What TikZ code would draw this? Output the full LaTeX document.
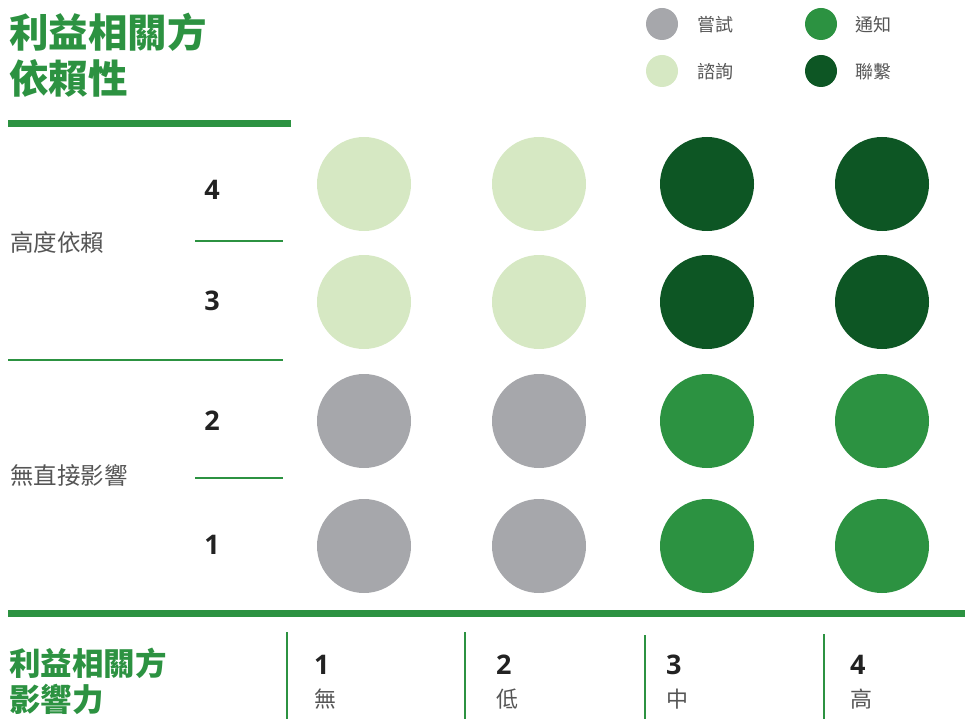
\documentclass[tikz,border=0pt]{standalone}
\usepackage{fontspec}
\setmainfont{Open Sans}
\newfontfamily\cjk{Noto Sans CJK TC}
\definecolor{cgray}{HTML}{A6A7AB}
\definecolor{clight}{HTML}{D6E8C3}
\definecolor{cmid}{HTML}{2C9241}
\definecolor{cdark}{HTML}{0D5624}
\definecolor{ctext}{HTML}{555555}
\definecolor{cnum}{HTML}{222222}
\tikzset{
  dot/.style={circle, minimum size=94pt, inner sep=0pt, draw=none},
  ldot/.style={circle, minimum size=32pt, inner sep=0pt, draw=none},
  title/.style={anchor=west, inner sep=0pt, text=cmid, font=\cjk\bfseries\fontsize{39.5}{39.5}\selectfont},
  subtitle/.style={anchor=west, inner sep=0pt, text=cmid, font=\cjk\bfseries\fontsize{31.5}{31.5}\selectfont},
  lbl/.style={anchor=west, inner sep=0pt, text=ctext, font=\cjk\fontsize{23.5}{23.5}\selectfont},
  leg/.style={anchor=west, inner sep=0pt, text=ctext, font=\cjk\fontsize{18}{18}\selectfont},
  num/.style={anchor=center, inner sep=0pt, text=cnum, font=\bfseries\fontsize{27}{27}\selectfont},
  bnum/.style={anchor=west, inner sep=0pt, text=cnum, font=\bfseries\fontsize{27}{27}\selectfont},
  blbl/.style={anchor=west, inner sep=0pt, text=ctext, font=\cjk\fontsize{22}{22}\selectfont},
  thick bar/.style={line width=7pt, draw=cmid},
  thin bar/.style={line width=2.5pt, draw=cmid},
  vbar/.style={line width=2pt, draw=cmid},
}
\begin{document}
\begin{tikzpicture}[x=1pt,y=-1pt]
\useasboundingbox (0,0) rectangle (965,719);
% title
\node[title] (t1) at (9,32) {利益相關方};
\node[title] (t2) at (9,78) {依賴性};
% legend
\node[ldot, fill=cgray] (l1) at (662,24) {};
\node[ldot, fill=clight] (l2) at (662,71) {};
\node[ldot, fill=cmid] (l3) at (821,24) {};
\node[ldot, fill=cdark] (l4) at (821,71) {};
\node[leg] (lt1) at (697,25) {嘗試};
\node[leg] (lt2) at (697,72) {諮詢};
\node[leg] (lt3) at (855,25) {通知};
\node[leg] (lt4) at (855,72) {聯繫};
% bars
\coordinate (b1a) at (8,123.5); \coordinate (b1b) at (291,123.5);
\draw[thick bar] (b1a) -- (b1b);
\coordinate (b2a) at (8,613.5); \coordinate (b2b) at (965,613.5);
\draw[thick bar] (b2a) -- (b2b);
\coordinate (s1a) at (195,241); \coordinate (s1b) at (283,241);
\draw[thin bar] (s1a) -- (s1b);
\coordinate (s2a) at (8,360); \coordinate (s2b) at (283,360);
\draw[thin bar] (s2a) -- (s2b);
\coordinate (s3a) at (195,478); \coordinate (s3b) at (283,478);
\draw[thin bar] (s3a) -- (s3b);
% left labels
\node[lbl] (hl) at (10,243) {高度依賴};
\node[lbl] (ll) at (10,475) {無直接影響};
\node[num] (n4) at (212,190) {4};
\node[num] (n3) at (212,301) {3};
\node[num] (n2) at (212,421) {2};
\node[num] (n1) at (212,545) {1};
% circles
\node[dot, fill=clight] (c41) at (364,184) {};
\node[dot, fill=clight] (c42) at (539,184) {};
\node[dot, fill=cdark] (c43) at (707,184) {};
\node[dot, fill=cdark] (c44) at (882,184) {};
\node[dot, fill=clight] (c31) at (364,302) {};
\node[dot, fill=clight] (c32) at (539,302) {};
\node[dot, fill=cdark] (c33) at (707,302) {};
\node[dot, fill=cdark] (c34) at (882,302) {};
\node[dot, fill=cgray] (c21) at (364,421) {};
\node[dot, fill=cgray] (c22) at (539,421) {};
\node[dot, fill=cmid] (c23) at (707,421) {};
\node[dot, fill=cmid] (c24) at (882,421) {};
\node[dot, fill=cgray] (c11) at (364,546) {};
\node[dot, fill=cgray] (c12) at (539,546) {};
\node[dot, fill=cmid] (c13) at (707,546) {};
\node[dot, fill=cmid] (c14) at (882,546) {};
% bottom axis
\node[subtitle] (bt1) at (9,663) {利益相關方};
\node[subtitle] (bt2) at (9,699) {影響力};
\coordinate (v1a) at (287,632); \coordinate (v1b) at (287,719);
\coordinate (v2a) at (465,632); \coordinate (v2b) at (465,719);
\coordinate (v3a) at (645,635); \coordinate (v3b) at (645,719);
\coordinate (v4a) at (824,634); \coordinate (v4b) at (824,719);
\draw[vbar] (v1a) -- (v1b);
\draw[vbar] (v2a) -- (v2b);
\draw[vbar] (v3a) -- (v3b);
\draw[vbar] (v4a) -- (v4b);
\node[bnum] (x1) at (314,665) {1};
\node[bnum] (x2) at (496,665) {2};
\node[bnum] (x3) at (666,665) {3};
\node[bnum] (x4) at (850,665) {4};
\node[blbl] (y1) at (314,699) {無};
\node[blbl] (y2) at (496,699) {低};
\node[blbl] (y3) at (666,699) {中};
\node[blbl] (y4) at (850,699) {高};
\end{tikzpicture}
\end{document}
